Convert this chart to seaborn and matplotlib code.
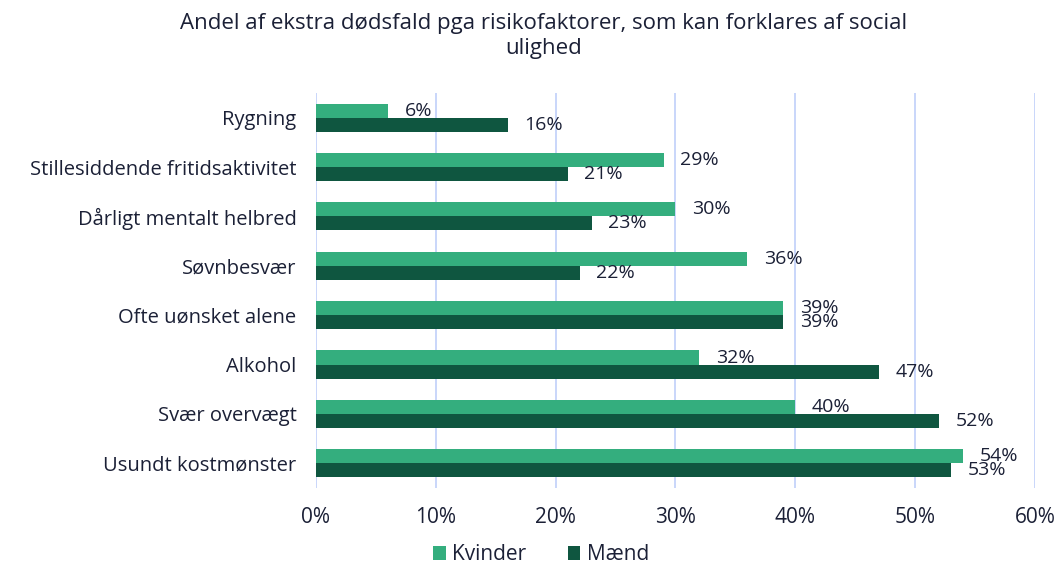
import pandas as pd
import seaborn as sns
import matplotlib.pyplot as plt
from matplotlib.ticker import PercentFormatter

categories = ['Rygning', 'Stillesiddende fritidsaktivitet', 'Dårligt mentalt helbred',
              'Søvnbesvær', 'Ofte uønsket alene', 'Alkohol', 'Svær overvægt',
              'Usundt kostmønster']
kvinder = [6, 29, 30, 36, 39, 32, 40, 54]
maend = [16, 21, 23, 22, 39, 47, 52, 53]
groups = ['Kvinder', 'Mænd']
xticks = [0, 10, 20, 30, 40, 50, 60]

df = pd.DataFrame({
    'kategori': categories * 2,
    'andel': kvinder + maend,
    'køn': ['Kvinder'] * len(categories) + ['Mænd'] * len(categories),
})

sns.set_style('white')
plt.rcParams['font.family'] = ['Open Sans', 'DejaVu Sans']
text_col = '#1b2036'
colors = {'Kvinder': '#34ae7e', 'Mænd': '#0f5640'}

fig = plt.figure(figsize=(10.61, 5.69), dpi=100)
ax = fig.add_axes([0.2978, 0.1424, 0.6777, 0.6942])

sns.barplot(data=df, y='kategori', x='andel', hue='køn', palette=colors,
            order=categories, hue_order=groups, width=0.57, orient='h',
            saturation=1, linewidth=0, ax=ax, legend=True)

for cont in ax.containers:
    ax.bar_label(cont, labels=[f'{v:.0f}%' for v in cont.datavalues],
                 padding=12, fontsize=14, color=text_col)

ax.set_xlim(0, 60)
ax.set_xticks(xticks)
ax.xaxis.set_major_formatter(PercentFormatter(decimals=0))
ax.grid(axis='x', color='#c5d3fa', linewidth=1.3)
ax.set_axisbelow(True)
for s in ax.spines.values():
    s.set_visible(False)
ax.set_xlabel('')
ax.set_ylabel('')
ax.tick_params(axis='x', labelsize=15, colors=text_col, length=0, pad=14)
ax.tick_params(axis='y', labelsize=14.5, colors=text_col, length=0, pad=14)

handles, labels = ax.get_legend_handles_labels()
ax.get_legend().remove()
fig.legend(handles, labels, loc='center', bbox_to_anchor=(0.51, 0.025),
           ncol=2, frameon=False, fontsize=15, labelcolor=text_col,
           handlelength=0.6, handleheight=0.6, handletextpad=0.3, columnspacing=2.0)

fig.suptitle('Andel af ekstra dødsfald pga risikofaktorer, som kan forklares af social\nulighed',
             x=0.512, y=0.978, fontsize=16, color=text_col, linespacing=1.3)

fig.savefig('out.png', dpi=100)
